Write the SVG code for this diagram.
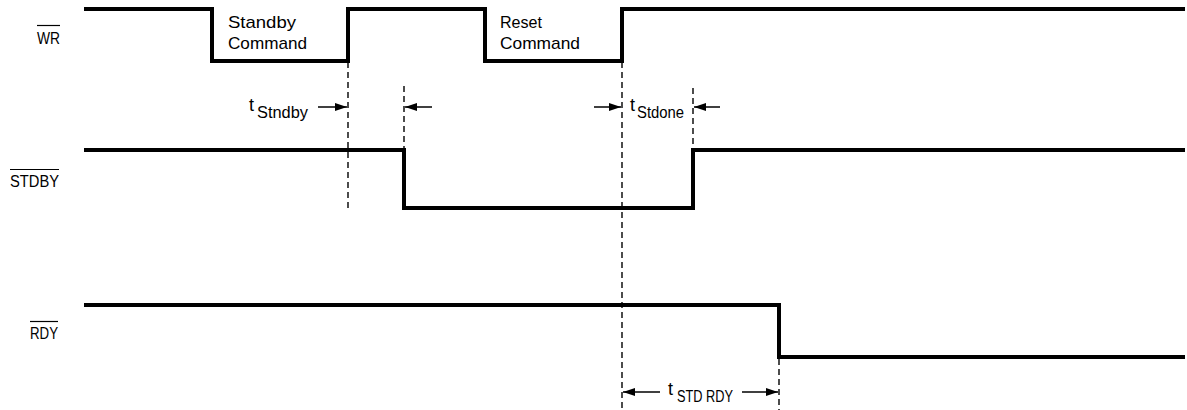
<svg xmlns="http://www.w3.org/2000/svg" width="1187" height="410" viewBox="0 0 1187 410">
<style>
.sig{fill:none;stroke:#000;stroke-width:4;stroke-linejoin:miter;stroke-linecap:butt}
.dash{fill:none;stroke:#000;stroke-width:1.4;stroke-dasharray:6,4}
.arr{fill:none;stroke:#000;stroke-width:1.5}
.t{font-family:"Liberation Sans",Arial,sans-serif;font-size:16px;fill:#000}
.w{font-size:17px}
.tt{font-size:18px}
.ov{stroke:#000;stroke-width:1.2}
</style>
<defs>
<marker id="ah" markerUnits="userSpaceOnUse" markerWidth="12" markerHeight="8" refX="12" refY="4" orient="auto">
<path d="M0,0 L12,4 L0,8 z" fill="#000"/>
</marker>
</defs>
<rect width="1187" height="410" fill="#fff"/>
<g id="label-wr">
<text class="t" x="37" y="44" textLength="23" lengthAdjust="spacingAndGlyphs">WR</text>
<line class="ov" x1="37" y1="25.5" x2="60" y2="25.5"/>
</g>
<g id="label-stdby">
<text class="t" x="10" y="187" textLength="49" lengthAdjust="spacingAndGlyphs">STDBY</text>
<line class="ov" x1="10" y1="169.5" x2="59" y2="169.5"/>
</g>
<g id="label-rdy">
<text class="t" x="30" y="339" textLength="28" lengthAdjust="spacingAndGlyphs">RDY</text>
<line class="ov" x1="30" y1="321.5" x2="58" y2="321.5"/>
</g>
<g id="signal-wr">
<path class="sig" d="M84,9 H212 V61 H348 V9 H485 V61 H622 V9 H1185"/>
<text class="t w" x="228" y="28" textLength="68" lengthAdjust="spacingAndGlyphs">Standby</text>
<text class="t w" x="228" y="49" textLength="79" lengthAdjust="spacingAndGlyphs">Command</text>
<text class="t w" x="500" y="28" textLength="42" lengthAdjust="spacingAndGlyphs">Reset</text>
<text class="t w" x="500" y="49" textLength="80" lengthAdjust="spacingAndGlyphs">Command</text>
</g>
<g id="signal-stdby">
<path class="sig" d="M84,150 H404 V208 H693 V150 H1185"/>
</g>
<g id="signal-rdy">
<path class="sig" d="M84,305 H779 V357 H1185"/>
</g>
<g id="connectors">
<line class="dash" x1="348" y1="62" x2="348" y2="212"/>
<line class="dash" x1="404" y1="86" x2="404" y2="150"/>
<line class="dash" x1="622" y1="62" x2="622" y2="410"/>
<line class="dash" x1="693" y1="88" x2="693" y2="150"/>
<line class="dash" x1="779" y1="359" x2="779" y2="410"/>
<line class="arr" x1="318" y1="107" x2="347" y2="107" marker-end="url(#ah)"/>
<line class="arr" x1="432" y1="107" x2="405" y2="107" marker-end="url(#ah)"/>
<line class="arr" x1="594" y1="107" x2="621" y2="107" marker-end="url(#ah)"/>
<line class="arr" x1="720" y1="107" x2="694" y2="107" marker-end="url(#ah)"/>
<line class="arr" x1="660" y1="392" x2="623" y2="392" marker-end="url(#ah)"/>
<line class="arr" x1="742" y1="392" x2="778" y2="392" marker-end="url(#ah)"/>
</g>
<g id="timing-labels">
<text class="t" x="249" y="111"><tspan class="tt">t</tspan><tspan x="257" y="118" textLength="51" lengthAdjust="spacingAndGlyphs">Stndby</tspan></text>
<text class="t" x="630" y="111"><tspan class="tt">t</tspan><tspan x="637" y="118" textLength="47" lengthAdjust="spacingAndGlyphs">Stdone</tspan></text>
<text class="t" x="668" y="395"><tspan class="tt">t</tspan><tspan x="677" y="402" textLength="56" lengthAdjust="spacingAndGlyphs">STD RDY</tspan></text>
</g>
</svg>
